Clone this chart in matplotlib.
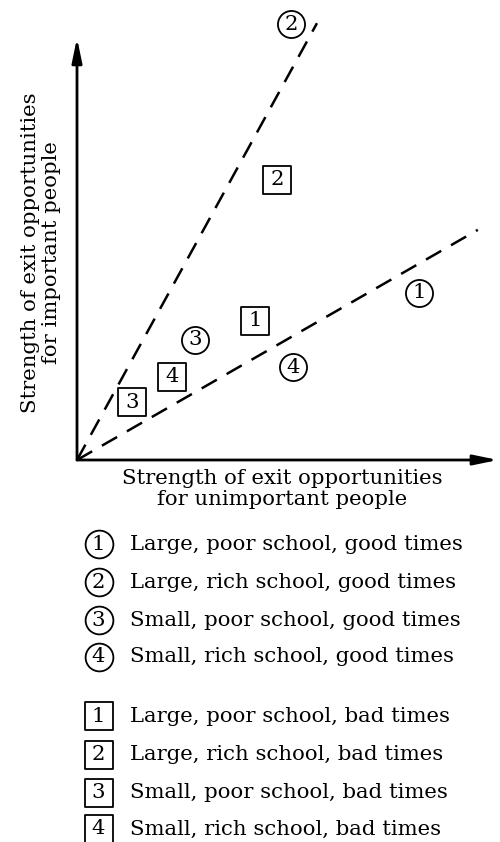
import matplotlib
matplotlib.use("Agg")
import matplotlib.pyplot as plt

# ---- data (arbitrary 0-10 strength units) ----
good_labels = ["1", "2", "3", "4"]
good_x = [8.12, 5.08, 2.80, 5.13]
good_y = [3.98, 10.38, 2.86, 2.21]

bad_labels = ["1", "2", "3", "4"]
bad_x = [4.23, 4.75, 1.31, 2.26]
bad_y = [3.31, 6.67, 1.38, 1.98]

# dashed rays from the origin
ray_steep = ([0, 5.70], [0, 10.40])
ray_shallow = ([0, 9.52], [0, 5.48])

good_desc = [
    "Large, poor school, good times",
    "Large, rich school, good times",
    "Small, poor school, good times",
    "Small, rich school, good times",
]
bad_desc = [
    "Large, poor school, bad times",
    "Large, rich school, bad times",
    "Small, poor school, bad times",
    "Small, rich school, bad times",
]

xlabel = "Strength of exit opportunities\nfor unimportant people"
ylabel = "Strength of exit opportunities\nfor important people"

plt.rcParams["font.family"] = ["DejaVu Serif"]
FS = 15.3
W, H = 500, 842

fig = plt.figure(figsize=(W / 100, H / 100), dpi=100)

# main axes: origin at pixel (77, 460), 10 units ~ 421 px wide / 420 px tall
ax = fig.add_axes([77 / W, (H - 460) / H, 421 / W, 420 / H])
ax.set_xlim(0, 10)
ax.set_ylim(0, 10)
ax.axis("off")

arrow = dict(arrowstyle="-|>,head_length=1.45,head_width=0.3", color="black", lw=2,
             shrinkA=0, shrinkB=0)
ax.annotate("", xy=(10.0, 0), xytext=(0, 0), arrowprops=arrow, annotation_clip=False)
ax.annotate("", xy=(0, 10.05), xytext=(0, 0), arrowprops=arrow, annotation_clip=False)

for xs, ys in (ray_steep, ray_shallow):
    ax.plot(xs, ys, color="black", lw=1.8, dashes=(7, 4.5), clip_on=False)

ax.scatter(good_x, good_y, s=19.5 ** 2, marker="o", facecolor="white",
           edgecolor="black", linewidth=1.3, zorder=3, clip_on=False)
ax.scatter(bad_x, bad_y, s=20 ** 2, marker="s", facecolor="white",
           edgecolor="black", linewidth=1.3, zorder=3, clip_on=False)
for lab, x, y in zip(good_labels, good_x, good_y):
    ax.text(x, y, lab, ha="center", va="center", fontsize=FS, zorder=4)
for lab, x, y in zip(bad_labels, bad_x, bad_y):
    ax.text(x, y, lab, ha="center", va="center", fontsize=FS, zorder=4)

fig.text(282 / W, 1 - 489 / H, xlabel, ha="center", va="center", fontsize=FS,
         linespacing=1.1)
fig.text(41 / W, 1 - 253 / H, ylabel, ha="center", va="center", rotation=90,
         fontsize=FS, linespacing=1.1)

# ---- key below the chart, in pixel coordinates ----
key = fig.add_axes([0, 0, 1, 1])
key.set_xlim(0, W)
key.set_ylim(H, 0)
key.axis("off")

good_rows = [544, 582, 620, 657]
bad_rows = [716, 755, 793, 829]
key.scatter([98.5] * 4, good_rows, s=20 ** 2, marker="o", facecolor="white",
            edgecolor="black", linewidth=1.3)
key.scatter([98.5] * 4, bad_rows, s=20.5 ** 2, marker="s", facecolor="white",
            edgecolor="black", linewidth=1.3)
for lab, desc, y in zip(good_labels, good_desc, good_rows):
    key.text(98.5, y, lab, ha="center", va="center", fontsize=FS)
    key.text(130, y, desc, ha="left", va="center", fontsize=FS)
for lab, desc, y in zip(bad_labels, bad_desc, bad_rows):
    key.text(98.5, y, lab, ha="center", va="center", fontsize=FS)
    key.text(130, y, desc, ha="left", va="center", fontsize=FS)

fig.savefig("out.png", dpi=100)
